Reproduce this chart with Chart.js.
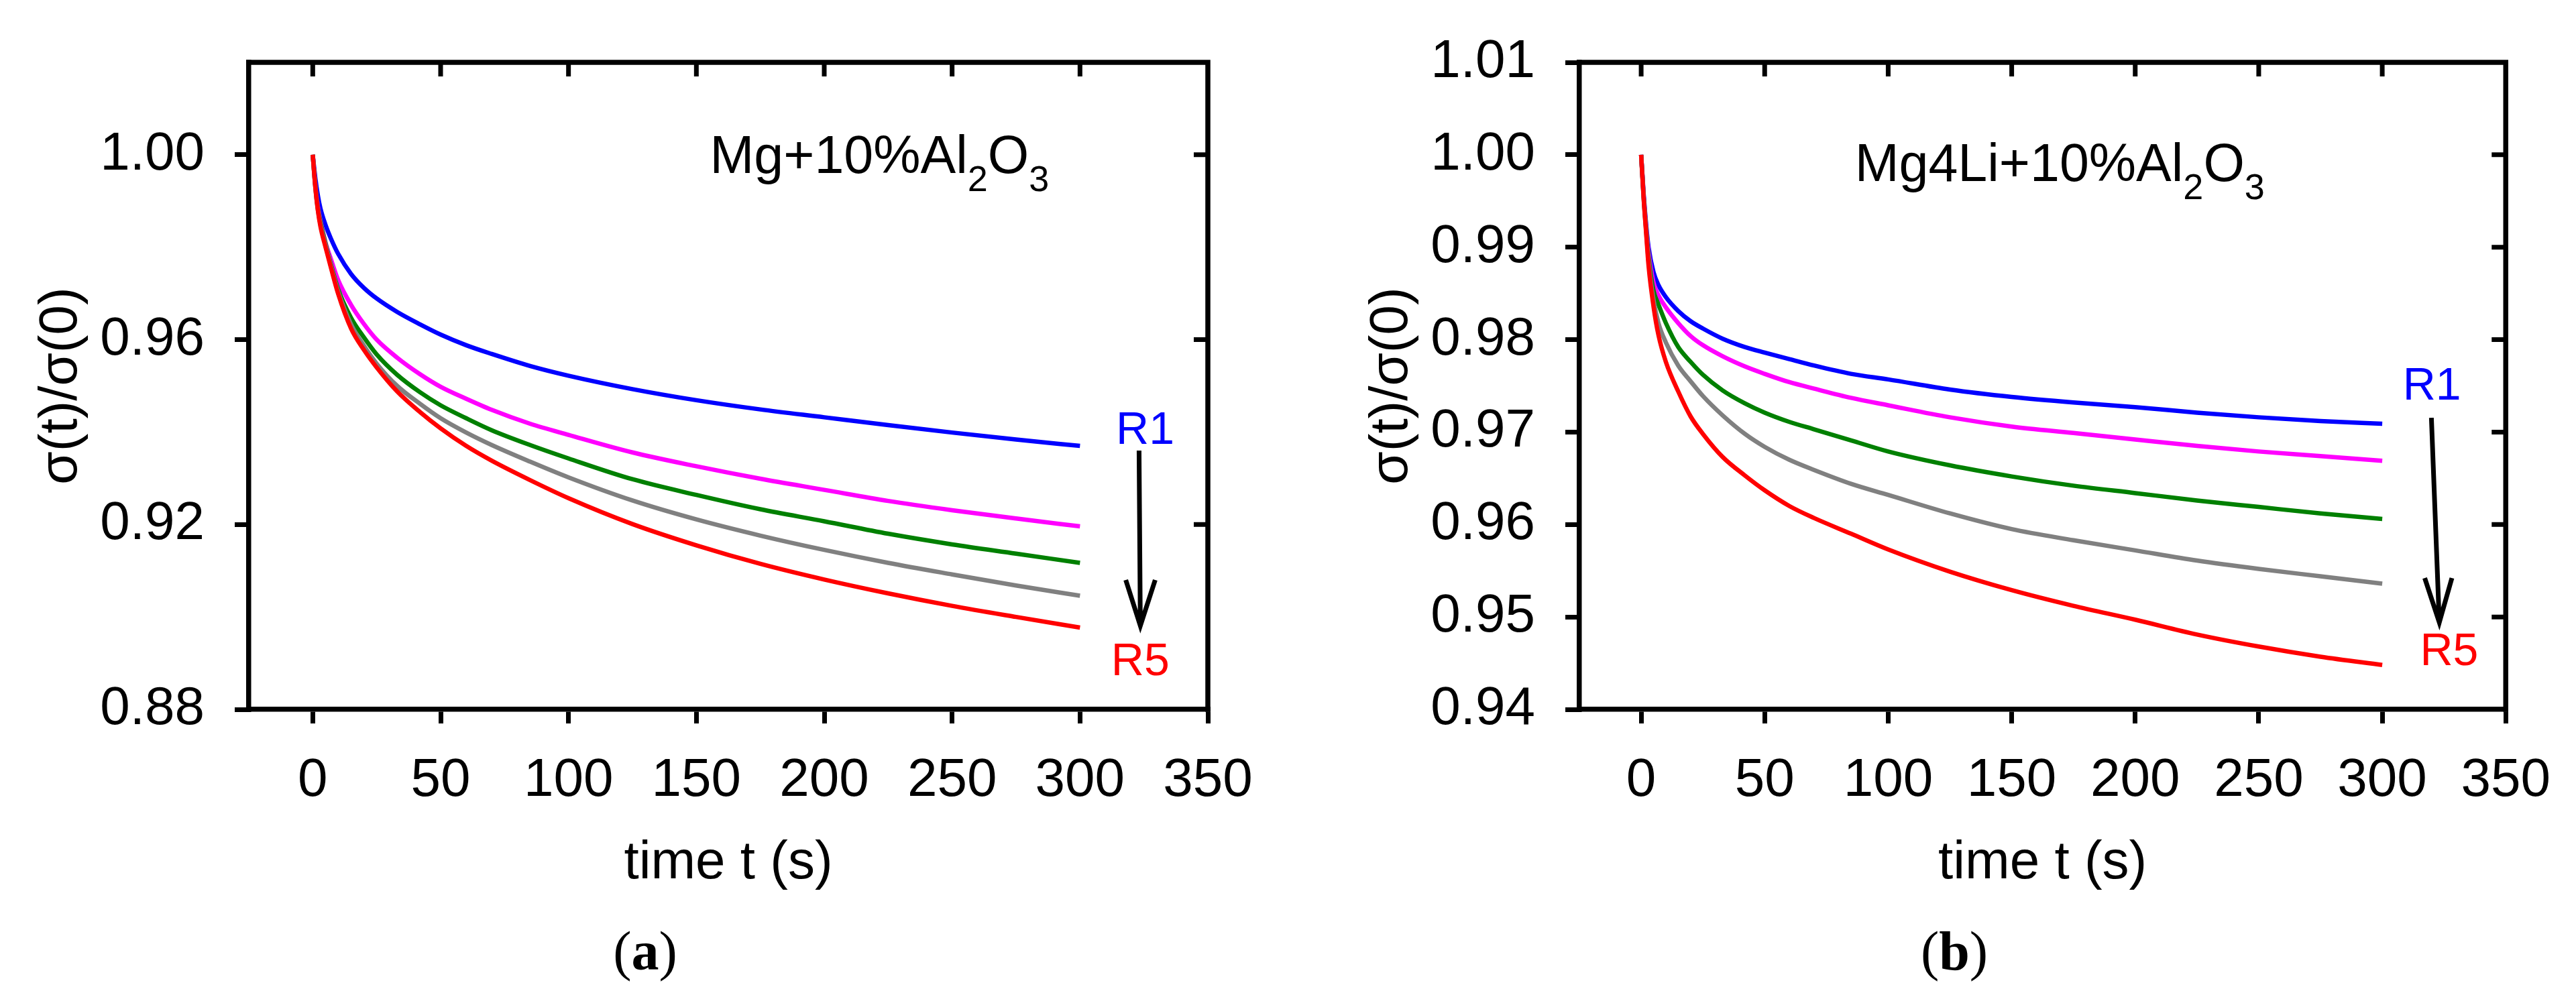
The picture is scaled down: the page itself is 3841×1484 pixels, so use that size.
<!DOCTYPE html>
<html>
<head>
<meta charset="utf-8">
<script src="https://cdn.jsdelivr.net/npm/chart.js@4.4.1/dist/chart.umd.min.js"></script>
<style>
  body { margin: 0; background: #fff; width: 3841px; height: 1484px; overflow: hidden; position: relative; }
  canvas { position: absolute; top: 0; }
</style>
</head>
<body>
<canvas id="chartA" width="1920" height="1484" style="left:0px"></canvas>
<canvas id="chartB" width="1921" height="1484" style="left:1920px"></canvas>
<script>
// time axis (s), shared by every curve
var timeS = [0, 1, 2, 3, 5, 7, 10, 15, 20, 25, 33, 42, 50, 60, 70, 85, 100, 125, 150, 175, 200, 225, 250, 275, 300];

// (a) Mg+10%Al2O3, runs R1..R5
var mgR1 = [1.0000, 0.9950, 0.9912, 0.9884, 0.9848, 0.9820, 0.9785, 0.9742, 0.9712, 0.9689, 0.9660, 0.9633, 0.9611, 0.9588, 0.9569, 0.9543, 0.9522, 0.9493, 0.9469, 0.9449, 0.9432, 0.9415, 0.9399, 0.9384, 0.9370];
var mgR2 = [1.0000, 0.9935, 0.9888, 0.9858, 0.9810, 0.9776, 0.9728, 0.9675, 0.9634, 0.9600, 0.9561, 0.9525, 0.9498, 0.9472, 0.9448, 0.9418, 0.9394, 0.9356, 0.9326, 0.9299, 0.9275, 0.9251, 0.9231, 0.9213, 0.9196];
var mgR3 = [1.0000, 0.9933, 0.9884, 0.9855, 0.9808, 0.9765, 0.9708, 0.9647, 0.9605, 0.9568, 0.9524, 0.9486, 0.9458, 0.9430, 0.9404, 0.9372, 0.9343, 0.9298, 0.9264, 0.9233, 0.9207, 0.9180, 0.9157, 0.9137, 0.9117];
var mgR4 = [1.0000, 0.9931, 0.9881, 0.9850, 0.9805, 0.9762, 0.9703, 0.9633, 0.9587, 0.9548, 0.9500, 0.9461, 0.9430, 0.9399, 0.9372, 0.9336, 0.9302, 0.9252, 0.9211, 0.9176, 0.9145, 0.9117, 0.9092, 0.9068, 0.9046];
var mgR5 = [1.0000, 0.9930, 0.9880, 0.9845, 0.9800, 0.9758, 0.9698, 0.9624, 0.9578, 0.9540, 0.9488, 0.9443, 0.9408, 0.9370, 0.9338, 0.9296, 0.9257, 0.9201, 0.9155, 0.9115, 0.9081, 0.9051, 0.9024, 0.9000, 0.8977];

// (b) Mg4Li+10%Al2O3, runs R1..R5
var mlR1 = [1.0000, 0.9958, 0.9925, 0.9900, 0.9873, 0.9859, 0.9846, 0.9831, 0.9820, 0.9812, 0.9801, 0.9792, 0.9786, 0.9779, 0.9772, 0.9763, 0.9757, 0.9746, 0.9738, 0.9732, 0.9727, 0.9721, 0.9716, 0.9712, 0.9709];
var mlR2 = [1.0000, 0.9956, 0.9922, 0.9895, 0.9862, 0.9848, 0.9835, 0.9818, 0.9804, 0.9794, 0.9782, 0.9771, 0.9763, 0.9754, 0.9747, 0.9737, 0.9729, 0.9716, 0.9706, 0.9699, 0.9692, 0.9685, 0.9679, 0.9674, 0.9669];
var mlR3 = [1.0000, 0.9955, 0.9920, 0.9890, 0.9853, 0.9838, 0.9818, 0.9792, 0.9776, 0.9762, 0.9745, 0.9731, 0.9721, 0.9711, 0.9703, 0.9691, 0.9679, 0.9664, 0.9652, 0.9642, 0.9634, 0.9626, 0.9619, 0.9612, 0.9606];
var mlR4 = [1.0000, 0.9954, 0.9918, 0.9885, 0.9843, 0.9818, 0.9797, 0.9772, 0.9755, 0.9739, 0.9718, 0.9698, 0.9684, 0.9670, 0.9659, 0.9644, 0.9632, 0.9612, 0.9595, 0.9583, 0.9572, 0.9561, 0.9552, 0.9544, 0.9536];
var mlR5 = [1.0000, 0.9953, 0.9916, 0.9880, 0.9836, 0.9805, 0.9776, 0.9744, 0.9717, 0.9698, 0.9673, 0.9653, 0.9637, 0.9620, 0.9607, 0.9590, 0.9573, 0.9549, 0.9529, 0.9512, 0.9497, 0.9481, 0.9468, 0.9457, 0.9448];

// tick labels
var xTicks = [0, 50, 100, 150, 200, 250, 300, 350];
var yTicksA = [0.88, 0.92, 0.96, 1.00];
var yTicksB = [0.94, 0.95, 0.96, 0.97, 0.98, 0.99, 1.00, 1.01];

var runColors = ['#0000ff', '#ff00ff', '#008000', '#808080', '#ff0000'];
var sans = "'Liberation Sans', Arial, sans-serif";
var serif = "'Liberation Serif', 'Times New Roman', serif";

function toPoints(vals) {
    return timeS.map(function(t, i) { return {x: t, y: vals[i]}; });
}

// frame on top/right, inward ticks, labels and the R1 -> R5 arrow
var decorPlugin = {
    id: 'decor',
    afterDatasetsDraw: function(chart, args, o) {
        var ctx = chart.ctx, a = chart.chartArea, x = chart.scales.x, y = chart.scales.y;
        ctx.save();
        ctx.strokeStyle = '#000';
        ctx.lineWidth = 7.5;
        ctx.beginPath();
        ctx.moveTo(a.left - 3.75, a.top);
        ctx.lineTo(a.right, a.top);
        ctx.lineTo(a.right, a.bottom + 3.75);
        ctx.stroke();

        ctx.lineWidth = 7;
        ctx.beginPath();
        x.ticks.forEach(function(t) {
            var px = x.getPixelForValue(t.value);
            if (px > a.left + 6 && px < a.right - 6) { ctx.moveTo(px, a.top); ctx.lineTo(px, a.top + 21); }
        });
        y.ticks.forEach(function(t) {
            var py = y.getPixelForValue(t.value);
            if (py > a.top + 6 && py < a.bottom - 6) { ctx.moveTo(a.right, py); ctx.lineTo(a.right - 21, py); }
        });
        ctx.stroke();

        // sample name with subscripts
        ctx.fillStyle = '#000';
        ctx.textBaseline = 'alphabetic';
        ctx.textAlign = 'left';
        var lx = x.getPixelForValue(o.name.t), ly = y.getPixelForValue(o.name.v);
        o.name.parts.forEach(function(p) {
            ctx.font = (p.sub ? '54px ' : '79px ') + sans;
            ctx.fillText(p.s, lx, ly + (p.sub ? 27 : 0));
            lx += ctx.measureText(p.s).width;
        });

        // R1 / R5
        ctx.textAlign = 'center';
        ctx.font = '68px ' + sans;
        ctx.fillStyle = runColors[0];
        ctx.fillText('R1', x.getPixelForValue(o.r1[0]), y.getPixelForValue(o.r1[1]));
        ctx.fillStyle = runColors[4];
        ctx.fillText('R5', x.getPixelForValue(o.r5[0]), y.getPixelForValue(o.r5[1]));

        // arrow
        ctx.lineWidth = 7;
        ctx.lineCap = 'butt';
        ctx.beginPath();
        ctx.moveTo(x.getPixelForValue(o.arrow[0]), y.getPixelForValue(o.arrow[1]));
        ctx.lineTo(x.getPixelForValue(o.arrow[2]), y.getPixelForValue(o.arrow[3]));
        ctx.moveTo(x.getPixelForValue(o.wings[0]), y.getPixelForValue(o.wings[2]));
        ctx.lineTo(x.getPixelForValue(o.arrow[2]), y.getPixelForValue(o.arrow[3]));
        ctx.lineTo(x.getPixelForValue(o.wings[1]), y.getPixelForValue(o.wings[2]));
        ctx.stroke();

        // panel letter, (a) with bold letter
        var pieces = [['(', ''], [o.letter, 'bold '], [')', '']];
        var total = 0;
        pieces.forEach(function(p) { ctx.font = p[1] + '82px ' + serif; total += ctx.measureText(p[0]).width; });
        var px0 = o.letterX - total / 2;
        ctx.textAlign = 'left';
        ctx.fillStyle = '#000';
        pieces.forEach(function(p) {
            ctx.font = p[1] + '82px ' + serif;
            ctx.fillText(p[0], px0, 1446);
            px0 += ctx.measureText(p[0]).width;
        });
        ctx.restore();
    }
};

function makeChart(id, series, yMin, yMax, yTicks, padLeft, padRight, decor) {
    var tickFont = {family: sans, size: 80};
    var axisBase = {
        grid: {drawOnChartArea: false, drawTicks: true, tickLength: 21, tickWidth: 7, tickColor: '#000', lineWidth: 7, color: '#000'},
        border: {display: true, width: 7.5, color: '#000'}
    };
    var datasets = series.map(function(vals, i) {
        return {
            label: 'R' + (i + 1),
            data: toPoints(vals),
            borderColor: runColors[i],
            borderWidth: 6.5,
            pointRadius: 0,
            fill: false,
            cubicInterpolationMode: 'monotone',
            order: 5 - i
        };
    });
    return new Chart(document.getElementById(id), {
        type: 'line',
        data: {datasets: datasets},
        plugins: [decorPlugin],
        options: {
            responsive: false,
            animation: false,
            devicePixelRatio: 1,
            layout: {padding: {left: padLeft, right: padRight, top: 52, bottom: 148}},
            plugins: {legend: {display: false}, tooltip: {enabled: false}, decor: decor},
            scales: {
                x: Object.assign({
                    type: 'linear', min: -25, max: 350,
                    afterBuildTicks: function(s) { s.ticks = xTicks.map(function(v) { return {value: v}; }); },
                    afterFit: function(s) { s.height = 278; },
                    ticks: {font: tickFont, color: '#000', padding: 38, maxRotation: 0, autoSkip: false},
                    title: {display: true, text: 'time t (s)', font: tickFont, color: '#000', padding: {top: 0, bottom: 0}}
                }, axisBase),
                y: Object.assign({
                    type: 'linear', min: yMin, max: yMax,
                    afterBuildTicks: function(s) { s.ticks = yTicks.map(function(v) { return {value: v}; }); },
                    afterFit: function(s) { s.width = 371; },
                    ticks: {font: tickFont, color: '#000', padding: 45, callback: function(v) { return v.toFixed(2); }},
                    title: {display: true, text: 'σ(t)/σ(0)', font: tickFont, color: '#000', padding: {top: 44, bottom: 0}}
                }, axisBase)
            }
        }
    });
}

makeChart('chartA', [mgR1, mgR2, mgR3, mgR4, mgR5], 0.88, 1.02, yTicksA, 0, 119, {
    name: {t: 155.3, v: 0.9960, parts: [{s: 'Mg+10%Al'}, {s: '2', sub: true}, {s: 'O'}, {s: '3', sub: true}]},
    r1: [325.5, 0.9374], r5: [323.6, 0.8874],
    arrow: [323.1, 0.9360, 323.6, 0.8981], wings: [317.9, 329.4, 0.9080],
    letter: 'a', letterX: 962
});

makeChart('chartB', [mlR1, mlR2, mlR3, mlR4, mlR5], 0.94, 1.01, yTicksB, 64, 86, {
    name: {t: 86.5, v: 0.99715, parts: [{s: 'Mg4Li+10%Al'}, {s: '2', sub: true}, {s: 'O'}, {s: '3', sub: true}]},
    r1: [320.1, 0.97349], r5: [327.1, 0.94482],
    arrow: [319.9, 0.97154, 323.1, 0.94941], wings: [317.2, 328.2, 0.95421],
    letter: 'b', letterX: 994
});
</script>
</body>
</html>
